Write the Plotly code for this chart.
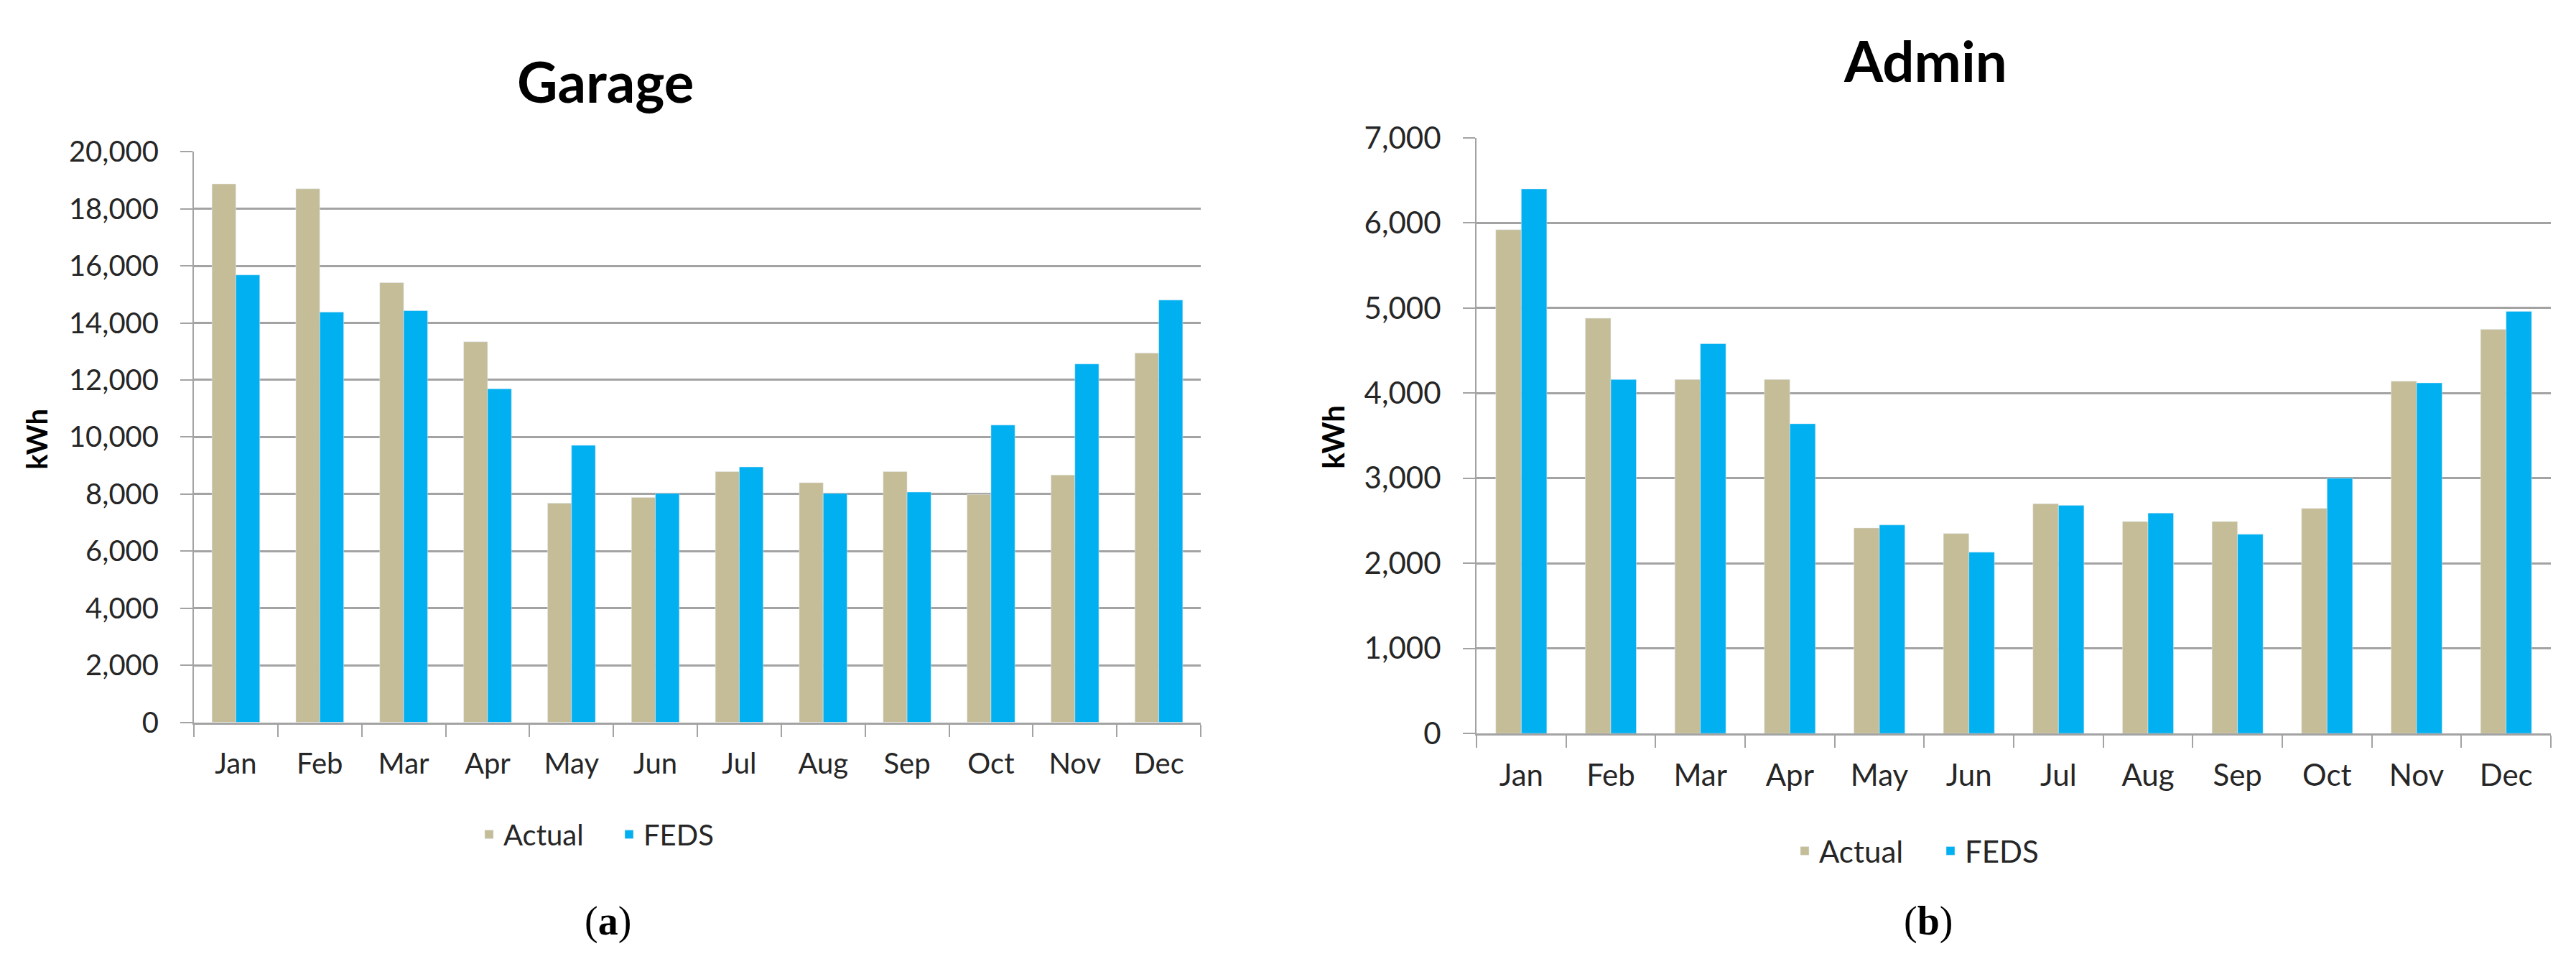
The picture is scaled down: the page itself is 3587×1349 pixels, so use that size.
import plotly.graph_objects as go

months = ["Jan", "Feb", "Mar", "Apr", "May", "Jun", "Jul", "Aug", "Sep", "Oct", "Nov", "Dec"]

garage_actual = [18870, 18700, 15410, 13340, 7680, 7880, 8790, 8400, 8790, 7990, 8670, 12940]
garage_feds = [15680, 14380, 14430, 11690, 9710, 8020, 8950, 8020, 8070, 10420, 12560, 14800]

admin_actual = [5920, 4880, 4160, 4160, 2415, 2350, 2700, 2490, 2490, 2645, 4140, 4750]
admin_feds = [6400, 4160, 4580, 3640, 2450, 2130, 2680, 2590, 2340, 3000, 4120, 4960]

series_names = ["Actual", "FEDS"]
titles = ["Garage", "Admin"]
panel_labels = ["(<b>a</b>)", "(<b>b</b>)"]
y_title = "kWh"

C_ACTUAL = "#C4BD97"
C_FEDS = "#00B0F0"
GRID = "#A3A3A3"
TXT = "#262626"
FONT = "Lato, Carlito, Calibri, sans-serif"

W, H = 3587, 1349

fig = go.Figure()

fig.add_trace(go.Bar(x=months, y=garage_actual, name=series_names[0], marker_color=C_ACTUAL,
                     xaxis="x", yaxis="y", legend="legend"))
fig.add_trace(go.Bar(x=months, y=garage_feds, name=series_names[1], marker_color=C_FEDS,
                     xaxis="x", yaxis="y", legend="legend"))
fig.add_trace(go.Bar(x=months, y=admin_actual, name=series_names[0], marker_color=C_ACTUAL,
                     xaxis="x2", yaxis="y2", legend="legend2"))
fig.add_trace(go.Bar(x=months, y=admin_feds, name=series_names[1], marker_color=C_FEDS,
                     xaxis="x2", yaxis="y2", legend="legend2"))


def px_x(v):
    return v / W


def px_y(v):
    return 1 - v / H


xcommon = dict(showline=True, linecolor=GRID, linewidth=3, ticks="outside", tickson="boundaries",
               ticklen=17, tickcolor=GRID, tickwidth=2, showgrid=False, ticklabelstandoff=20)
ycommon = dict(showline=True, linecolor=GRID, linewidth=2, ticks="outside", ticklen=17,
               tickcolor=GRID, tickwidth=2, showgrid=True, gridcolor=GRID, gridwidth=3,
               tickformat=",d", zeroline=False, ticklabelstandoff=22)

fig.update_layout(
    width=W, height=H,
    margin=dict(l=0, r=0, t=0, b=0),
    paper_bgcolor="white", plot_bgcolor="white",
    barmode="group", bargap=0.43, bargroupgap=0,
    font=dict(family=FONT, color=TXT),
    xaxis=dict(domain=[px_x(262), px_x(1664)], anchor="y", tickfont=dict(size=40, color=TXT), **xcommon),
    yaxis=dict(domain=[px_y(1009), px_y(184)], anchor="x", range=[0, 20000], dtick=2000,
               tickfont=dict(size=40, color=TXT), **ycommon),
    xaxis2=dict(domain=[px_x(2048), px_x(3544)], anchor="y2", tickfont=dict(size=42, color=TXT), **xcommon),
    yaxis2=dict(domain=[px_y(1025), px_y(164)], anchor="x2", range=[0, 7000], dtick=1000,
                tickfont=dict(size=42, color=TXT), **ycommon),
    legend=dict(orientation="h", x=px_x(848), y=px_y(1171), xanchor="center", yanchor="middle",
                font=dict(size=40, color=TXT), bgcolor="rgba(0,0,0,0)", itemwidth=30,
                entrywidth=150),
    legend2=dict(orientation="h", x=px_x(2688), y=px_y(1195), xanchor="center", yanchor="middle",
                 font=dict(size=42, color=TXT), bgcolor="rgba(0,0,0,0)", itemwidth=30,
                 entrywidth=158),
    showlegend=True,
)

ann = []
ann.append(dict(text="<b>" + titles[0] + "</b>", x=px_x(835), y=px_y(82), xref="paper", yref="paper",
                showarrow=False, xanchor="center", yanchor="middle", font=dict(size=78, color="black", family=FONT)))
ann.append(dict(text="<b>" + titles[1] + "</b>", x=px_x(2673), y=px_y(52), xref="paper", yref="paper",
                showarrow=False, xanchor="center", yanchor="middle", font=dict(size=78, color="black", family=FONT)))
ann.append(dict(text="<b>" + y_title + "</b>", x=px_x(43), y=px_y(600), xref="paper", yref="paper",
                showarrow=False, xanchor="center", yanchor="middle", textangle=-90,
                font=dict(size=40, color="black", family=FONT)))
ann.append(dict(text="<b>" + y_title + "</b>", x=px_x(1848), y=px_y(597), xref="paper", yref="paper",
                showarrow=False, xanchor="center", yanchor="middle", textangle=-90,
                font=dict(size=42, color="black", family=FONT)))
ann.append(dict(text=panel_labels[0], x=px_x(838), y=px_y(1297), xref="paper", yref="paper",
                showarrow=False, xanchor="center", yanchor="middle",
                font=dict(size=56, color="black", family="Liberation Serif, Times New Roman, serif")))
ann.append(dict(text=panel_labels[1], x=px_x(2677), y=px_y(1297), xref="paper", yref="paper",
                showarrow=False, xanchor="center", yanchor="middle",
                font=dict(size=56, color="black", family="Liberation Serif, Times New Roman, serif")))
fig.update_layout(annotations=ann)

fig.write_html("out.html")
